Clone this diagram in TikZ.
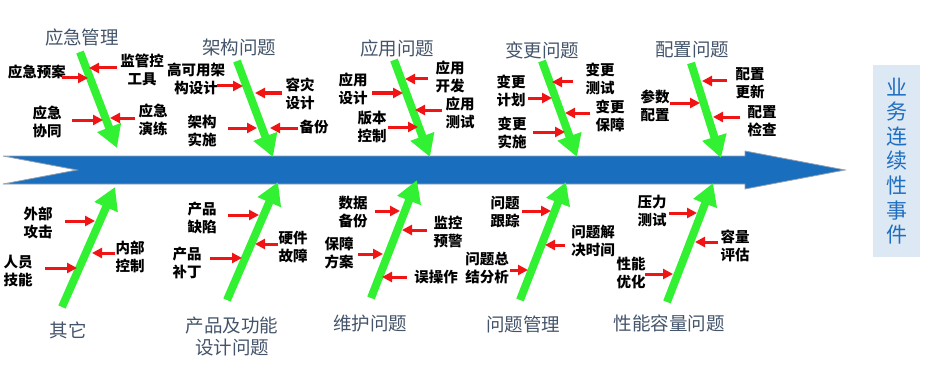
\documentclass[tikz,border=0pt]{standalone}
\usepackage{fontspec}
\newfontfamily\cjk{Noto Sans CJK SC}
\usetikzlibrary{arrows.meta}
\definecolor{spineblue}{RGB}{26,110,190}
\definecolor{spineedge}{RGB}{150,160,175}
\definecolor{bonegreen}{RGB}{50,240,50}
\definecolor{catgray}{RGB}{68,84,106}
\definecolor{boxfill}{RGB}{221,232,245}
\definecolor{boxtext}{RGB}{31,111,192}
\definecolor{causered}{RGB}{240,20,20}
\begin{document}
\begin{tikzpicture}[x=1pt,y=-1pt,
  bone/.style={draw=bonegreen, line width=8pt, -{Triangle[width=24pt,length=22pt]}},
  cause/.style={draw=causered, line width=3pt, -{Triangle[width=10pt,length=10pt]}},
  cat/.style={font=\cjk\fontsize{18.5}{22}\selectfont, text=catgray, inner sep=0pt, align=center},
  lbl/.style={font=\cjk\bfseries\fontsize{14.5}{18}\selectfont, text=black, inner sep=0pt, align=center},
]
\useasboundingbox (0,0) rectangle (932,369);

% spine
\filldraw[fill=spineblue, draw=spineedge, line width=0.8pt]
  (3,156) -- (745,156) -- (745,151) -- (845,170) -- (745,189) -- (745,184)
  -- (3,184) -- (77,170) -- cycle;

% effect box
\node[fill=boxfill, minimum width=47pt, minimum height=192pt, inner sep=0pt,
      font=\cjk\fontsize{21}{24.6}\selectfont, text=boxtext, align=center]
  (evt) at (896.5,161) {业\\务\\连\\续\\性\\事\\件};

% categories
\node[cat] (c1) at (82,37) {应急管理};
\node[cat] (c2) at (239,47) {架构问题};
\node[cat] (c3) at (397,48) {应用问题};
\node[cat] (c4) at (542,50) {变更问题};
\node[cat] (c5) at (692,50) {配置问题};
\node[cat] (c6) at (68,330) {其它};
\node[cat] (c7) at (232,336) {产品及功能\\设计问题};
\node[cat] (c8) at (370,323) {维护问题};
\node[cat] (c9) at (523,324) {问题管理};
\node[cat] (c10) at (669,323) {性能容量问题};

% bone coordinates
\coordinate (g1s) at (80,52);   \coordinate (g1e) at (117,148);
\coordinate (g2s) at (237,61);  \coordinate (g2e) at (273,157);
\coordinate (g3s) at (394,60);  \coordinate (g3e) at (430,157);
\coordinate (g4s) at (542,61);  \coordinate (g4e) at (577,157);
\coordinate (g5s) at (691,63);  \coordinate (g5e) at (721,158);
\coordinate (g6s) at (62,307);  \coordinate (g6e) at (115,187);
\coordinate (g7s) at (227,300); \coordinate (g7e) at (278,182);
\coordinate (g8s) at (371,298); \coordinate (g8e) at (417,180);
\coordinate (g9s) at (520,300); \coordinate (g9e) at (566,182);
\coordinate (g10s) at (667,302); \coordinate (g10e) at (713,183);
\foreach \i in {1,...,10} {\draw[bone] (g\i s) -- (g\i e);}

% labels
\node[lbl] (l1a) at (37,72) {应急预案};
\node[lbl] (l1b) at (142,70) {监管控\\工具};
\node[lbl] (l1c) at (47,122) {应急\\协同};
\node[lbl] (l1d) at (153,120) {应急\\演练};
\node[lbl] (l2a) at (196,79) {高可用架\\构设计};
\node[lbl] (l2b) at (300,94) {容灾\\设计};
\node[lbl] (l2c) at (202,131) {架构\\实施};
\node[lbl] (l2d) at (314,127) {备份};
\node[lbl] (l3a) at (450,77) {应用\\开发};
\node[lbl] (l3b) at (353,89) {应用\\设计};
\node[lbl] (l3c) at (460,113) {应用\\测试};
\node[lbl] (l3d) at (372,127) {版本\\控制};
\node[lbl] (l4a) at (600,79) {变更\\测试};
\node[lbl] (l4b) at (511,91) {变更\\计划};
\node[lbl] (l4c) at (610,116) {变更\\保障};
\node[lbl] (l4d) at (512,133) {变更\\实施};
\node[lbl] (l5a) at (750,83) {配置\\更新};
\node[lbl] (l5b) at (655,106) {参数\\配置};
\node[lbl] (l5c) at (762,121) {配置\\检查};
\node[lbl] (l6a) at (38,223) {外部\\攻击};
\node[lbl] (l6b) at (130,257) {内部\\控制};
\node[lbl] (l6c) at (18,271) {人员\\技能};
\node[lbl] (l7a) at (202,218) {产品\\缺陷};
\node[lbl] (l7b) at (293,247) {硬件\\故障};
\node[lbl] (l7c) at (187,263) {产品\\补丁};
\node[lbl] (l8a) at (353,212) {数据\\备份};
\node[lbl] (l8b) at (448,232) {监控\\预警};
\node[lbl] (l8c) at (339,253) {保障\\方案};
\node[lbl] (l8d) at (436,277) {误操作};
\node[lbl] (l9a) at (505,212) {问题\\跟踪};
\node[lbl] (l9b) at (593,241) {问题解\\决时间};
\node[lbl] (l9c) at (487,268) {问题总\\结分析};
\node[lbl] (l10a) at (652,211) {压力\\测试};
\node[lbl] (l10b) at (735,246) {容量\\评估};
\node[lbl] (l10c) at (631,273) {性能\\优化};

% cause arrows
\foreach \n/\xa/\xb/\yy in {
  1a/62/88/78, 1b/117/89/68, 1c/72/103/120, 1d/135/110/118,
  2a/217/243/86, 2b/282/255/93, 2c/228/257/128, 2d/298/270/128,
  3a/428/405/79, 3b/372/403/93, 3c/442/415/110, 3d/388/418/127,
  4a/573/552/82, 4b/528/552/98, 4c/590/565/113, 4d/533/565/132,
  5a/727/702/81, 5b/670/700/103, 5c/740/713/117,
  6a/65/95/221, 6b/115/92/253, 6c/45/77/268,
  7a/228/259/215, 7b/278/255/244, 7c/210/242/258,
  8a/375/400/211, 8b/427/402/230, 8c/358/383/254, 8d/407/382/277,
  9a/522/551/211, 9b/565/545/245, 9c/510/528/270,
  10a/669/697/213, 10b/718/695/242, 10c/645/673/274} {
  \coordinate (r\n s) at (\xa,\yy);
  \coordinate (r\n e) at (\xb,\yy);
  \draw[cause] (r\n s) -- (r\n e);
}
\end{tikzpicture}
\end{document}
